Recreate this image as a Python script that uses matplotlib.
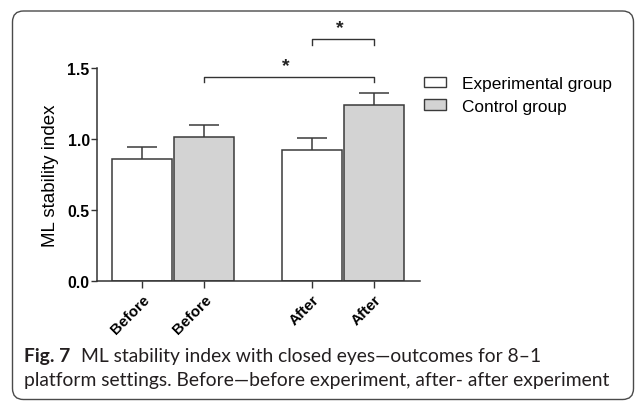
import matplotlib
matplotlib.use("Agg")
import matplotlib.pyplot as plt
from matplotlib.patches import FancyBboxPatch, Patch

# ---- data ----
categories = ["Before", "Before", "After", "After"]
groups = ["Experimental group", "Control group", "Experimental group", "Control group"]
means = [0.86, 1.016, 0.922, 1.24]
errors = [0.085, 0.08, 0.087, 0.084]
legend_labels = ["Experimental group", "Control group"]
yticks = [0.0, 0.5, 1.0, 1.5]
ytick_labels = ["0.0", "0.5", "1.0", "1.5"]
ylabel = "ML stability index"
sig_pairs = [(1, 3), (2, 3)]
sig_text = ["*", "*"]
caption_bold = "Fig. 7"
caption_line1 = "ML stability index with closed eyes\u2014outcomes for 8\u20131"
caption_line2 = "platform settings. Before\u2014before experiment, after- after experiment"

# ---- layout ----
positions = [0, 1, 2.72, 3.72]
bar_width = 0.96
colors = {"Experimental group": "white", "Control group": "#d3d3d3"}
edge = "#3a3a3a"

W, H = 635, 402
fig = plt.figure(figsize=(W / 100, H / 100), dpi=100)
fig.patch.set_facecolor("white")

# rounded frame
frame = FancyBboxPatch((12.5, 1.5), 621, 388.5, boxstyle="round,pad=0,rounding_size=11",
                       transform=None, fill=False, edgecolor="#4a4a4a", linewidth=1.0)
fig.patches.append(frame)

ax_l, ax_r, ax_t, ax_b = 97, 420, 69, 281.7
ax = fig.add_axes([ax_l / W, (H - ax_b) / H, (ax_r - ax_l) / W, (ax_b - ax_t) / H])

for p, m, e, g in zip(positions, means, errors, groups):
    ax.bar(p, m, width=bar_width, color=colors[g], edgecolor=edge, linewidth=1.1, zorder=2)
    ax.plot([p, p], [m, m + e], color=edge, lw=1.1, zorder=3, solid_capstyle="butt")
    ax.plot([p - 0.24, p + 0.24], [m + e, m + e], color=edge, lw=1.1, zorder=3, solid_capstyle="butt")

ax.set_xlim(-0.72, 4.456)
ax.set_ylim(0, 1.5)
for s in ["top", "right"]:
    ax.spines[s].set_visible(False)
for s in ["left", "bottom"]:
    ax.spines[s].set_color("#333333")
    ax.spines[s].set_linewidth(1.1)

ax.set_yticks(yticks)
ax.set_yticklabels(ytick_labels, fontfamily="Liberation Sans", fontweight="bold", fontsize=11.3)
ax.tick_params(axis="y", length=4.3, width=1.0, pad=1, color="#333333")
ax.set_xticks(positions)
ax.set_xticklabels(categories, rotation=45, ha="right", va="top", rotation_mode="anchor",
                   fontfamily="Liberation Sans", fontweight="bold", fontsize=11)
ax.tick_params(axis="x", length=5, width=1.0, pad=3, color="#333333")
ax.set_ylabel(ylabel, fontfamily="Liberation Sans", fontsize=13.5, labelpad=6)

# significance brackets
levels = [1.44, 1.705]
for (i, j), lev, t in zip(sig_pairs, levels, sig_text):
    x1, x2 = positions[i], positions[j]
    ax.plot([x1, x1, x2, x2], [lev - 0.04, lev, lev, lev - 0.04], color="#333333", lw=1.0,
            clip_on=False)
    ax.text((x1 + x2) / 2 - 0.05, lev + 0.02, t, ha="center", va="bottom", fontsize=14,
            fontweight="bold", fontfamily="Liberation Sans", clip_on=False, color="#222222")

# legend
handles = [Patch(facecolor=colors[l], edgecolor=edge, linewidth=1.0) for l in legend_labels]
leg = fig.legend(handles, legend_labels, loc="upper left",
                 bbox_to_anchor=(424 / W, 1 - 77 / H), frameon=False,
                 prop={"family": "Liberation Sans", "size": 12.4},
                 handlelength=1.3, handleheight=0.55, handletextpad=0.9,
                 labelspacing=0.45, borderaxespad=0, borderpad=0)

# caption
cap_font = "Lato"
fig.canvas.draw()
r = fig.canvas.get_renderer()
probe = fig.text(0, 0, caption_line2, fontfamily=cap_font, fontsize=14)
w = probe.get_window_extent(r).width
probe.remove()
fs = 14 * 588 / w
tb = fig.text(24 / W, 1 - 362 / H, caption_bold, fontfamily=cap_font, fontweight="bold",
              fontsize=fs, va="baseline", color="#231f20")
bw = tb.get_window_extent(r).x1
fig.text((bw + 11) / W, 1 - 362 / H, caption_line1, fontfamily=cap_font, fontsize=fs,
         va="baseline", color="#231f20")
fig.text(24 / W, 1 - 386 / H, caption_line2, fontfamily=cap_font, fontsize=fs,
         va="baseline", color="#231f20")

fig.savefig("out.png", dpi=100)
